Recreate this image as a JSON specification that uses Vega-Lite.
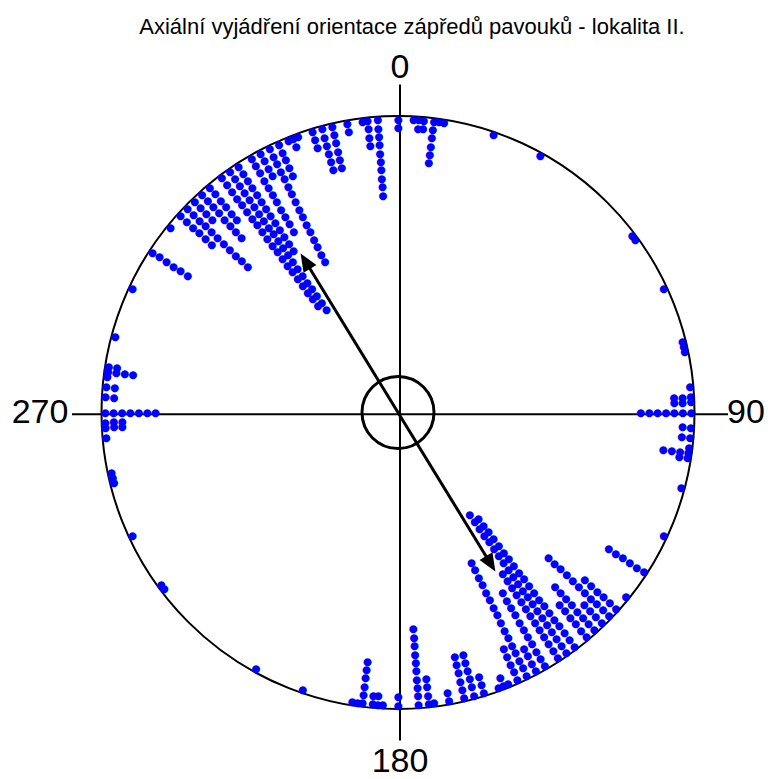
{
"$schema": "https://vega.github.io/schema/vega-lite/v6.json",
"width": 720, "height": 720,
"autosize": {"type": "none"},
"padding": {"left": 38, "top": 52.5, "right": 10, "bottom": 6.5},
"background": "white",
"config": {"view": {"stroke": null}},
"title": {"text": "Axiální vyjádření orientace zápředů pavouků - lokalita II.", "font": "Liberation Sans", "fontSize": 22, "fontWeight": "normal", "color": "black", "anchor": "middle", "offset": 12, "dx": 14},
"datasets": {
"dots": [
{"a":0,"k":0},{"a":0,"k":1},{"a":3,"k":0},{"a":4,"k":0},{"a":4,"k":1},{"a":5,"k":0},{"a":5,"k":1},
{"a":7,"k":0},{"a":7,"k":1},{"a":7,"k":2},{"a":7,"k":3},{"a":7,"k":4},{"a":7,"k":5},
{"a":8,"k":0},{"a":9,"k":0},{"a":19,"k":0},{"a":29,"k":0},{"a":53,"k":0},{"a":54,"k":0},{"a":65,"k":0},
{"a":76,"k":0},{"a":77,"k":0},{"a":78,"k":0},{"a":85,"k":0},
{"a":87,"k":0},{"a":87,"k":1},{"a":87,"k":2},{"a":88,"k":0},{"a":88,"k":1},{"a":88,"k":2},
{"a":90,"k":0},{"a":90,"k":1},{"a":90,"k":2},{"a":90,"k":3},{"a":90,"k":4},{"a":90,"k":5},{"a":90,"k":6},
{"a":93,"k":0},{"a":93,"k":1},{"a":95,"k":0},{"a":95,"k":1},{"a":97,"k":0},
{"a":98,"k":0},{"a":98,"k":1},{"a":98,"k":2},{"a":98,"k":3},{"a":99,"k":0},{"a":99,"k":1},
{"a":105,"k":0},{"a":115,"k":0},
{"a":123,"k":0},{"a":123,"k":1},{"a":123,"k":2},{"a":123,"k":3},{"a":123,"k":4},{"a":123,"k":5},
{"a":129,"k":0},
{"a":132,"k":0},{"a":132,"k":1},{"a":132,"k":2},{"a":132,"k":3},{"a":132,"k":4},{"a":132,"k":5},
{"a":134,"k":0},{"a":134,"k":1},{"a":134,"k":2},{"a":134,"k":3},{"a":134,"k":4},{"a":134,"k":5},{"a":134,"k":6},{"a":134,"k":7},{"a":134,"k":8},{"a":134,"k":9},{"a":134,"k":10},
{"a":136,"k":0},{"a":136,"k":1},{"a":136,"k":2},{"a":136,"k":3},
{"a":138,"k":0},{"a":138,"k":1},{"a":138,"k":2},{"a":138,"k":3},{"a":138,"k":4},{"a":138,"k":5},{"a":138,"k":6},{"a":138,"k":7},
{"a":140,"k":0},{"a":140,"k":1},{"a":140,"k":2},{"a":140,"k":3},{"a":140,"k":4},{"a":140,"k":5},
{"a":143,"k":0},{"a":143,"k":1},{"a":143,"k":2},{"a":143,"k":3},{"a":143,"k":4},{"a":143,"k":5},{"a":143,"k":6},{"a":143,"k":7},{"a":143,"k":8},{"a":143,"k":9},{"a":143,"k":10},{"a":143,"k":11},{"a":143,"k":12},{"a":143,"k":13},{"a":143,"k":14},{"a":143,"k":15},{"a":143,"k":16},{"a":143,"k":17},{"a":143,"k":18},{"a":143,"k":19},
{"a":145,"k":0},{"a":145,"k":1},{"a":145,"k":2},{"a":145,"k":3},{"a":145,"k":4},{"a":145,"k":5},{"a":145,"k":6},{"a":145,"k":7},{"a":145,"k":8},{"a":145,"k":9},{"a":145,"k":10},{"a":145,"k":11},{"a":145,"k":12},{"a":145,"k":13},{"a":145,"k":14},{"a":145,"k":15},{"a":145,"k":16},{"a":145,"k":17},{"a":145,"k":18},{"a":145,"k":19},{"a":145,"k":20},
{"a":147,"k":0},{"a":147,"k":1},{"a":147,"k":2},{"a":147,"k":3},{"a":147,"k":4},{"a":147,"k":5},{"a":147,"k":6},{"a":147,"k":7},{"a":147,"k":8},{"a":147,"k":9},{"a":147,"k":10},{"a":147,"k":11},{"a":147,"k":12},
{"a":150,"k":0},{"a":150,"k":1},{"a":150,"k":2},{"a":150,"k":3},{"a":150,"k":4},{"a":150,"k":5},{"a":150,"k":6},{"a":150,"k":7},{"a":150,"k":8},{"a":150,"k":9},{"a":150,"k":10},
{"a":152,"k":0},{"a":152,"k":1},{"a":152,"k":2},{"a":152,"k":3},
{"a":154,"k":0},{"a":154,"k":1},{"a":154,"k":2},{"a":154,"k":3},{"a":154,"k":4},{"a":154,"k":5},{"a":154,"k":6},{"a":154,"k":7},{"a":154,"k":8},{"a":154,"k":9},{"a":154,"k":10},{"a":154,"k":11},{"a":154,"k":12},{"a":154,"k":13},{"a":154,"k":14},{"a":154,"k":15},
{"a":156,"k":0},{"a":156,"k":1},{"a":156,"k":2},{"a":156,"k":3},{"a":156,"k":4},
{"a":158,"k":0},{"a":159,"k":0},{"a":159,"k":1},{"a":160,"k":0},
{"a":163,"k":0},{"a":163,"k":1},{"a":163,"k":2},
{"a":165,"k":0},{"a":165,"k":1},{"a":165,"k":2},{"a":165,"k":3},{"a":165,"k":4},{"a":165,"k":5},
{"a":167,"k":0},{"a":167,"k":1},{"a":167,"k":2},{"a":167,"k":3},{"a":167,"k":4},{"a":167,"k":5},
{"a":170,"k":0},{"a":170,"k":1},{"a":173,"k":0},
{"a":174,"k":0},{"a":174,"k":1},{"a":174,"k":2},{"a":174,"k":3},
{"a":176,"k":0},{"a":176,"k":1},{"a":176,"k":2},{"a":176,"k":3},{"a":176,"k":4},{"a":176,"k":5},{"a":176,"k":6},{"a":176,"k":7},{"a":176,"k":8},{"a":176,"k":9},
{"a":180,"k":0},{"a":180,"k":1},{"a":183,"k":0},{"a":184,"k":0},{"a":184,"k":1},{"a":185,"k":0},{"a":185,"k":1},
{"a":187,"k":0},{"a":187,"k":1},{"a":187,"k":2},{"a":187,"k":3},{"a":187,"k":4},{"a":187,"k":5},
{"a":188,"k":0},{"a":189,"k":0},{"a":199,"k":0},{"a":209,"k":0},{"a":233,"k":0},{"a":234,"k":0},{"a":245,"k":0},
{"a":256,"k":0},{"a":257,"k":0},{"a":258,"k":0},{"a":265,"k":0},
{"a":267,"k":0},{"a":267,"k":1},{"a":267,"k":2},{"a":268,"k":0},{"a":268,"k":1},{"a":268,"k":2},
{"a":270,"k":0},{"a":270,"k":1},{"a":270,"k":2},{"a":270,"k":3},{"a":270,"k":4},{"a":270,"k":5},{"a":270,"k":6},
{"a":273,"k":0},{"a":273,"k":1},{"a":275,"k":0},{"a":275,"k":1},{"a":277,"k":0},
{"a":278,"k":0},{"a":278,"k":1},{"a":278,"k":2},{"a":278,"k":3},{"a":279,"k":0},{"a":279,"k":1},
{"a":285,"k":0},{"a":295,"k":0},
{"a":303,"k":0},{"a":303,"k":1},{"a":303,"k":2},{"a":303,"k":3},{"a":303,"k":4},{"a":303,"k":5},
{"a":309,"k":0},
{"a":312,"k":0},{"a":312,"k":1},{"a":312,"k":2},{"a":312,"k":3},{"a":312,"k":4},{"a":312,"k":5},
{"a":314,"k":0},{"a":314,"k":1},{"a":314,"k":2},{"a":314,"k":3},{"a":314,"k":4},{"a":314,"k":5},{"a":314,"k":6},{"a":314,"k":7},{"a":314,"k":8},{"a":314,"k":9},{"a":314,"k":10},
{"a":316,"k":0},{"a":316,"k":1},{"a":316,"k":2},{"a":316,"k":3},
{"a":318,"k":0},{"a":318,"k":1},{"a":318,"k":2},{"a":318,"k":3},{"a":318,"k":4},{"a":318,"k":5},{"a":318,"k":6},{"a":318,"k":7},
{"a":320,"k":0},{"a":320,"k":1},{"a":320,"k":2},{"a":320,"k":3},{"a":320,"k":4},{"a":320,"k":5},
{"a":323,"k":0},{"a":323,"k":1},{"a":323,"k":2},{"a":323,"k":3},{"a":323,"k":4},{"a":323,"k":5},{"a":323,"k":6},{"a":323,"k":7},{"a":323,"k":8},{"a":323,"k":9},{"a":323,"k":10},{"a":323,"k":11},{"a":323,"k":12},{"a":323,"k":13},{"a":323,"k":14},{"a":323,"k":15},{"a":323,"k":16},{"a":323,"k":17},{"a":323,"k":18},{"a":323,"k":19},
{"a":325,"k":0},{"a":325,"k":1},{"a":325,"k":2},{"a":325,"k":3},{"a":325,"k":4},{"a":325,"k":5},{"a":325,"k":6},{"a":325,"k":7},{"a":325,"k":8},{"a":325,"k":9},{"a":325,"k":10},{"a":325,"k":11},{"a":325,"k":12},{"a":325,"k":13},{"a":325,"k":14},{"a":325,"k":15},{"a":325,"k":16},{"a":325,"k":17},{"a":325,"k":18},{"a":325,"k":19},{"a":325,"k":20},
{"a":327,"k":0},{"a":327,"k":1},{"a":327,"k":2},{"a":327,"k":3},{"a":327,"k":4},{"a":327,"k":5},{"a":327,"k":6},{"a":327,"k":7},{"a":327,"k":8},{"a":327,"k":9},{"a":327,"k":10},{"a":327,"k":11},{"a":327,"k":12},
{"a":330,"k":0},{"a":330,"k":1},{"a":330,"k":2},{"a":330,"k":3},{"a":330,"k":4},{"a":330,"k":5},{"a":330,"k":6},{"a":330,"k":7},{"a":330,"k":8},{"a":330,"k":9},{"a":330,"k":10},
{"a":332,"k":0},{"a":332,"k":1},{"a":332,"k":2},{"a":332,"k":3},
{"a":334,"k":0},{"a":334,"k":1},{"a":334,"k":2},{"a":334,"k":3},{"a":334,"k":4},{"a":334,"k":5},{"a":334,"k":6},{"a":334,"k":7},{"a":334,"k":8},{"a":334,"k":9},{"a":334,"k":10},{"a":334,"k":11},{"a":334,"k":12},{"a":334,"k":13},{"a":334,"k":14},{"a":334,"k":15},
{"a":336,"k":0},{"a":336,"k":1},{"a":336,"k":2},{"a":336,"k":3},{"a":336,"k":4},
{"a":338,"k":0},{"a":339,"k":0},{"a":339,"k":1},{"a":340,"k":0},
{"a":343,"k":0},{"a":343,"k":1},{"a":343,"k":2},
{"a":345,"k":0},{"a":345,"k":1},{"a":345,"k":2},{"a":345,"k":3},{"a":345,"k":4},{"a":345,"k":5},
{"a":347,"k":0},{"a":347,"k":1},{"a":347,"k":2},{"a":347,"k":3},{"a":347,"k":4},{"a":347,"k":5},
{"a":350,"k":0},{"a":350,"k":1},{"a":353,"k":0},
{"a":354,"k":0},{"a":354,"k":1},{"a":354,"k":2},{"a":354,"k":3},
{"a":356,"k":0},{"a":356,"k":1},{"a":356,"k":2},{"a":356,"k":3},{"a":356,"k":4},{"a":356,"k":5},{"a":356,"k":6},{"a":356,"k":7},{"a":356,"k":8},{"a":356,"k":9}
],
"lines": [
{"x": 2, "y": 328, "x2": 2, "y2": -328},
{"x": -326, "y": -1.8, "x2": 330, "y2": -1.8}
],
"arrow": [{"x": -91.4, "y": 149.2, "x2": 91.4, "y2": -149.2}],
"heads": [{"x": -97.4, "y": 159.0, "dir": 328.5}, {"x": 97.4, "y": -159.0, "dir": 148.5}],
"labels": [
{"t": "0", "x": 2, "y": 344.5},
{"t": "90", "x": 348, "y": -0.5},
{"t": "180", "x": 2, "y": -349.5},
{"t": "270", "x": -358, "y": -0.5}
]
},
"layer": [
{"data": {"values": [{}]}, "mark": {"type": "arc", "theta": 0, "theta2": 6.2832, "radius": 296.5, "fill": null, "stroke": "black", "strokeWidth": 2}, "encoding": {}},
{"data": {"name": "lines"}, "mark": {"type": "rule", "color": "black", "strokeWidth": 2},
 "encoding": {
  "x": {"field": "x", "type": "quantitative", "scale": {"domain": [-360, 360], "nice": false, "zero": false}, "axis": null},
  "y": {"field": "y", "type": "quantitative", "scale": {"domain": [-360, 360], "nice": false, "zero": false}, "axis": null},
  "x2": {"field": "x2"}, "y2": {"field": "y2"}}},
{"data": {"values": [{}]}, "mark": {"type": "arc", "theta": 0, "theta2": 6.2832, "radius": 36, "fill": null, "stroke": "black", "strokeWidth": 3}, "encoding": {}},
{"data": {"name": "dots"}, "mark": {"type": "text", "text": "●", "font": "DejaVu Sans", "fontSize": 10.5, "color": "#0000FF", "align": "center", "baseline": "middle"},
 "encoding": {
  "theta": {"field": "a", "type": "quantitative", "scale": {"domain": [0, 360], "range": [0, 6.283185307]}},
  "radius": {"field": "k", "type": "quantitative", "scale": {"type": "linear", "zero": false, "domain": [0, 21], "range": [293, 116.6]}}}},
{"data": {"name": "arrow"}, "mark": {"type": "rule", "color": "black", "strokeWidth": 3},
 "encoding": {
  "x": {"field": "x", "type": "quantitative", "scale": {"domain": [-360, 360], "nice": false, "zero": false}, "axis": null},
  "y": {"field": "y", "type": "quantitative", "scale": {"domain": [-360, 360], "nice": false, "zero": false}, "axis": null},
  "x2": {"field": "x2"}, "y2": {"field": "y2"}}},
{"data": {"name": "heads"}, "mark": {"type": "point", "shape": "M0,0L-0.42,1L0.42,1Z", "filled": true, "color": "black", "opacity": 1, "size": 1296},
 "encoding": {
  "x": {"field": "x", "type": "quantitative", "scale": {"domain": [-360, 360], "nice": false, "zero": false}, "axis": null},
  "y": {"field": "y", "type": "quantitative", "scale": {"domain": [-360, 360], "nice": false, "zero": false}, "axis": null},
  "angle": {"field": "dir", "type": "quantitative", "scale": null}}},
{"data": {"name": "labels"}, "mark": {"type": "text", "font": "Liberation Sans", "fontSize": 34, "color": "black", "align": "center", "baseline": "middle"},
 "encoding": {
  "x": {"field": "x", "type": "quantitative", "scale": {"domain": [-360, 360], "nice": false, "zero": false}, "axis": null},
  "y": {"field": "y", "type": "quantitative", "scale": {"domain": [-360, 360], "nice": false, "zero": false}, "axis": null},
  "text": {"field": "t"}}}
]
}
